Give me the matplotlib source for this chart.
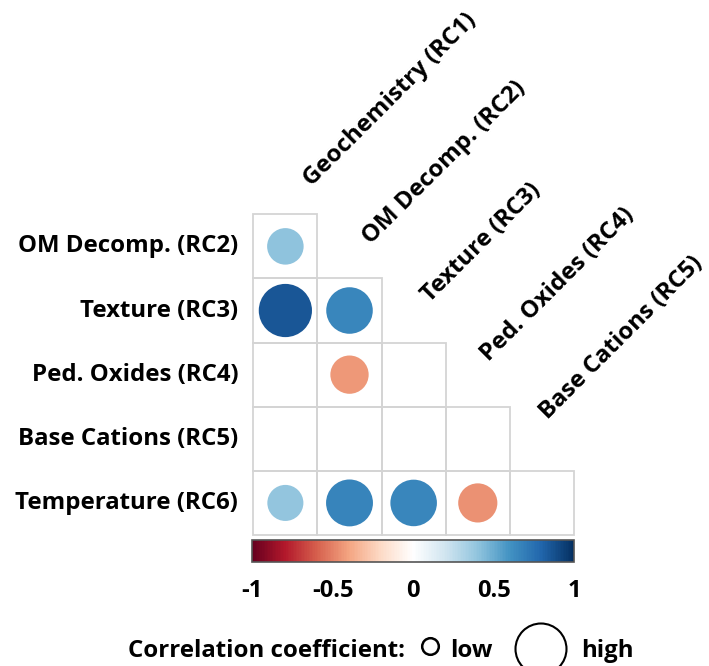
import numpy as np
import matplotlib
matplotlib.use("Agg")
import matplotlib.pyplot as plt
from matplotlib.patches import Circle, Rectangle
from matplotlib.colors import LinearSegmentedColormap, Normalize
from matplotlib.colorbar import ColorbarBase

# ---- data ----
row_labels = ["OM Decomp. (RC2)", "Texture (RC3)", "Ped. Oxides (RC4)",
              "Base Cations (RC5)", "Temperature (RC6)"]
col_labels = ["Geochemistry (RC1)", "OM Decomp. (RC2)", "Texture (RC3)",
              "Ped. Oxides (RC4)", "Base Cations (RC5)"]
nan = np.nan
# lower-triangle correlations (rows x cols); NaN = not shown
corr = np.array([
    [0.40, nan,  nan,  nan,   nan],
    [0.85, 0.65, nan,  nan,   nan],
    [nan, -0.44, nan,  nan,   nan],
    [nan,  nan,  nan,  nan,   nan],
    [0.39, 0.66, 0.65, -0.46, nan],
])
cbar_ticks = [-1, -0.5, 0, 0.5, 1]
cbar_ticklabels = ["-1", "-0.5", "0", "0.5", "1"]

plt.rcParams['font.family'] = ['Open Sans', 'DejaVu Sans']
plt.rcParams['font.weight'] = 'bold'
FS = 17.3
FS_T = 17.0

cmap = LinearSegmentedColormap.from_list("corrRdBu", [
    "#67001F", "#B2182B", "#D6604D", "#F4A582", "#FDDBC7", "#FFFFFF",
    "#D1E5F0", "#92C5DE", "#4393C3", "#2166AC", "#053061"], N=200)
norm = Normalize(-1, 1)

W, H = 709, 666
fig = plt.figure(figsize=(W / 100, H / 100), dpi=100)

# grid axes (pixel placement)
gx0, gx1, gy0, gy1 = 253.3, 574.0, 214.3, 535.0
ax = fig.add_axes([gx0 / W, 1 - gy1 / H, (gx1 - gx0) / W, (gy1 - gy0) / H])
n = len(row_labels)
ax.set_xlim(-0.5, n - 0.5)
ax.set_ylim(n - 0.5, -0.5)
ax.axis("off")

gridc = "#d4d4d4"
for i in range(n):
    for j in range(i + 1):
        ax.add_patch(Rectangle((j - 0.5, i - 0.5), 1, 1, fill=False,
                               edgecolor=gridc, lw=1.3, clip_on=False, zorder=1))
        v = corr[i, j]
        if not np.isnan(v):
            r = 0.45 * np.sqrt(abs(v))
            ax.add_patch(Circle((j, i), r, facecolor=cmap(norm(v)),
                                edgecolor="none", zorder=2, clip_on=False))

for i, lab in enumerate(row_labels):
    ax.text(-0.734, i, lab, ha="right", va="center", fontsize=FS,
            fontweight="bold", clip_on=False)

for j, lab in enumerate(col_labels):
    ax.text(0.41 + 0.922 * j, -0.93 + 0.908 * j, lab, rotation=45,
            rotation_mode="anchor", ha="left", va="baseline", fontsize=FS,
            fontweight="bold", clip_on=False)

# colorbar
cx0, cx1, cy0, cy1 = 252.3, 574.0, 540.0, 562.0
cax = fig.add_axes([cx0 / W, 1 - cy1 / H, (cx1 - cx0) / W, (cy1 - cy0) / H])
cb = ColorbarBase(cax, cmap=cmap, norm=norm, orientation="horizontal",
                  ticks=cbar_ticks)
cb.set_ticklabels(cbar_ticklabels)
cb.outline.set_edgecolor("#555555")
cb.outline.set_linewidth(1.2)
cax.tick_params(length=0, labelsize=FS_T, pad=12)
for t in cax.get_xticklabels():
    t.set_fontweight("bold")

# legend overlay in pixel coords
lax = fig.add_axes([0, 0, 1, 1], facecolor="none")
lax.set_xlim(0, W)
lax.set_ylim(H, 0)
lax.axis("off")
lax.text(128, 657, "Correlation coefficient:", ha="left", va="baseline",
         fontsize=FS, fontweight="bold")
lax.add_patch(Circle((430.5, 646.5), 8.3, fill=False, edgecolor="black", lw=1.8))
lax.text(450, 657, "low", ha="left", va="baseline", fontsize=FS, fontweight="bold")
lax.add_patch(Circle((541, 649), 25.5, fill=False, edgecolor="black", lw=1.5,
                     clip_on=False))
lax.text(581.5, 657, "high", ha="left", va="baseline", fontsize=FS, fontweight="bold")

fig.savefig("out.png", dpi=100)
